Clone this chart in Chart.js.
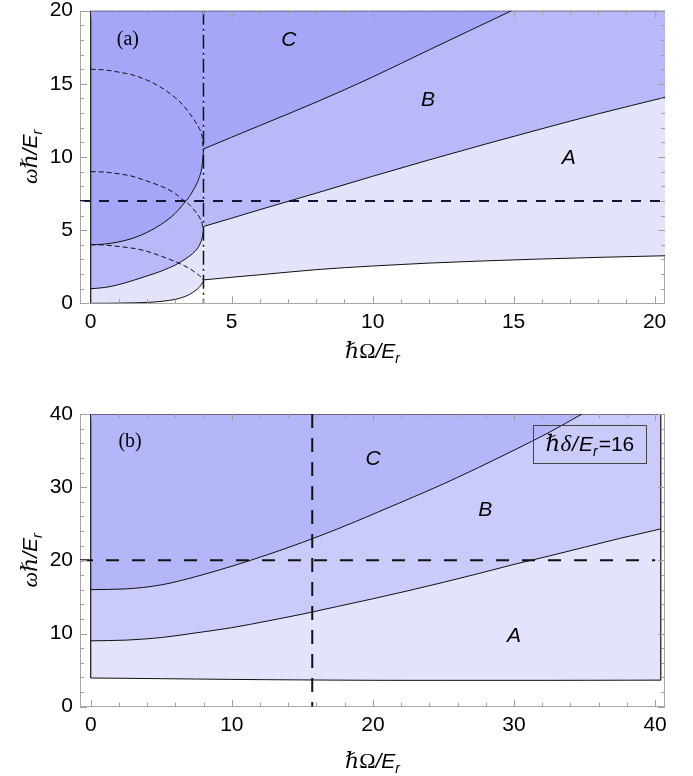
<!DOCTYPE html>
<html><head><meta charset="utf-8">
<script src="https://cdn.jsdelivr.net/npm/chart.js@4.4.0/dist/chart.umd.min.js"></script>
<style>
html,body{margin:0;padding:0;background:#fff;}
#wrap{position:relative;width:693px;height:776px;overflow:hidden;background:#fff;}
canvas{position:absolute;left:0;}
#c1{top:-20px;} #c2{top:390px;}
</style></head><body>
<div id="wrap"><canvas id="c1" width="693" height="400"></canvas><canvas id="c2" width="693" height="386"></canvas></div>
<script>
// ---------------- Panel (a) data ----------------
const aLeftX  = [0, 0.5, 1, 1.5, 2, 2.5, 3, 3.25, 3.5, 3.7, 3.85, 3.95, 4];
const aLowL   = [0, 0, 0.01, 0.03, 0.06, 0.13, 0.27, 0.4, 0.6, 0.85, 1.1, 1.35, 1.5];
const aMidL   = [1.0, 1.08, 1.28, 1.56, 1.87, 2.2, 2.62, 2.9, 3.22, 3.55, 3.95, 4.45, 4.95];
const aUpL    = [4.0, 4.05, 4.2, 4.45, 4.85, 5.4, 6.15, 6.7, 7.3, 7.95, 8.6, 9.4, 10.45];
const aDash16 = [16.0, 15.95, 15.8, 15.6, 15.25, 14.75, 14.05, 13.6, 13.0, 12.45, 11.95, 11.4, 10.5];
const aDash9  = [9.0, 8.97, 8.85, 8.67, 8.35, 8.0, 7.5, 7.1, 6.75, 6.3, 5.9, 5.45, 4.95];
const aDash4  = [4.0, 3.98, 3.88, 3.76, 3.55, 3.22, 2.85, 2.63, 2.38, 2.12, 1.9, 1.72, 1.55];
const aRightX = [4, 5, 6, 8, 10, 12, 14, 16, 18, 20.37];
const aLowR   = [1.6, 1.78, 1.95, 2.3, 2.55, 2.75, 2.9, 3.03, 3.14, 3.25];
const aMidR   = [5.25, 5.82, 6.4, 7.53, 8.68, 9.8, 10.88, 11.93, 12.95, 14.08];
const aUpRX   = [4, 5, 6, 8, 10, 12, 14, 14.93];
const aUpR    = [10.55, 11.35, 12.15, 13.75, 15.47, 17.32, 19.15, 20];
const aOmegaV = 4;      // vertical dash-dot line
const aOmegaH = 7;      // horizontal dashed line
const aXRange = [-0.38, 20.37];
const aYRange = [0, 20];
const aXTickStep = 1, aXMajor = 5, aYTickStep = 1, aYMajor = 5;

// ---------------- Panel (b) data ----------------
const bX     = [0, 2.5, 5, 7.5, 10, 12.5, 15, 17.5, 20, 22.5, 25, 27.5, 30, 32.5, 35, 37.5, 40.4];
const bLow   = [3.92, 3.88, 3.83, 3.78, 3.73, 3.69, 3.66, 3.63, 3.61, 3.6, 3.6, 3.6, 3.6, 3.6, 3.61, 3.62, 3.63];
const bMid   = [9.0, 9.1, 9.45, 10.1, 10.8, 11.7, 12.65, 13.7, 14.75, 15.85, 17.0, 18.2, 19.45, 20.6, 21.8, 23.0, 24.3];
const bUpX   = [0, 2.5, 5, 7.5, 10, 12.5, 15, 17.5, 20, 22.5, 25, 27.5, 30, 32.5, 34.82];
const bUp    = [16.0, 16.1, 16.65, 17.8, 19.2, 20.75, 22.45, 24.3, 26.3, 28.35, 30.45, 32.7, 35.05, 37.5, 40];
const bOmegaV = 15.7;
const bOmegaH = 20;
const bDelta  = 16;
const bXRange = [-0.76, 40.7];
const bYRange = [0, 40];
const bXTickStep = 2, bXMajor = 10, bYTickStep = 2, bYMajor = 10;

// ---------------- helpers ----------------
const SANS = '"Liberation Sans", Arial, sans-serif';
const SERIF = '"Liberation Serif", "DejaVu Serif", serif';
const pts = (xs, ys) => xs.map((x, i) => ({x: x, y: ys[i]}));
const last = a => a[a.length - 1];

function richWidth(ctx, parts) {
  let w = 0;
  parts.forEach(p => { ctx.font = p.f; w += ctx.measureText(p.t).width + (p.sp || 0); });
  return w;
}
function drawRich(ctx, parts, cx, cy, rot) {
  ctx.save();
  ctx.translate(cx, cy);
  if (rot) ctx.rotate(rot);
  ctx.textBaseline = 'alphabetic';
  ctx.textAlign = 'left';
  ctx.fillStyle = '#000';
  const w = richWidth(ctx, parts);
  let x = -w / 2;
  parts.forEach(p => {
    ctx.font = p.f;
    ctx.fillText(p.t, x, 7 + (p.dy || 0));
    x += ctx.measureText(p.t).width + (p.sp || 0);
  });
  ctx.restore();
  return w;
}
const titleY = [
  {t: 'ωℏ', f: 'italic 22px ' + SERIF},
  {t: '/', f: 'italic 21px ' + SANS},
  {t: 'E', f: 'italic 21px ' + SANS},
  {t: 'r', f: 'italic 14px ' + SANS, dy: 5}
];
const titleX = [
  {t: 'ℏ', f: 'italic 22px ' + SERIF},
  {t: 'Ω', f: '22px ' + SERIF},
  {t: '/', f: 'italic 21px ' + SANS},
  {t: 'E', f: 'italic 21px ' + SANS},
  {t: 'r', f: 'italic 14px ' + SANS, dy: 5}
];

const isMajor = (v, m) => Math.abs(v / m - Math.round(v / m)) < 1e-6;

const decor = {
  id: 'decor',
  beforeDatasetsDraw(chart, args, o) {
    const {ctx, chartArea: ca} = chart;
    ctx.save();
    ctx.strokeStyle = '#a8a8a8';
    ctx.lineWidth = 1;
    ctx.strokeRect(Math.round(ca.left) + 0.5, Math.round(ca.top) + 0.5,
                   Math.round(ca.right - ca.left) - 1, Math.round(ca.bottom - ca.top) - 1);
    ctx.restore();
  },
  afterDatasetsDraw(chart, args, o) {
    const {ctx, chartArea: ca} = chart;
    const xs = chart.scales.x, ys = chart.scales.y;
    ctx.save();
    ctx.strokeStyle = '#a0a0a0';
    ctx.lineWidth = 1;
    ctx.beginPath();
    xs.ticks.forEach(t => {
      const p = Math.round(xs.getPixelForValue(t.value)) + 0.5;
      const L = isMajor(t.value, o.xMajor) ? 7 : 4;
      ctx.moveTo(p, ca.bottom); ctx.lineTo(p, ca.bottom - L);
      ctx.moveTo(p, ca.top); ctx.lineTo(p, ca.top + L);
    });
    ys.ticks.forEach(t => {
      const p = Math.round(ys.getPixelForValue(t.value)) + 0.5;
      const L = isMajor(t.value, o.yMajor) ? 7 : 4;
      ctx.moveTo(ca.left, p); ctx.lineTo(ca.left + L, p);
      ctx.moveTo(ca.right, p); ctx.lineTo(ca.right - L, p);
    });
    ctx.stroke();
    ctx.restore();
  },
  afterDraw(chart, args, o) {
    const {ctx, chartArea: ca} = chart;
    const xs = chart.scales.x, ys = chart.scales.y;
    drawRich(ctx, titleX, (ca.left + ca.right) / 2, ca.bottom + o.xTitleOffset, 0);
    drawRich(ctx, titleY, o.yTitleX, (ca.top + ca.bottom) / 2, -Math.PI / 2);
    ctx.save();
    ctx.textAlign = 'center';
    ctx.textBaseline = 'middle';
    ctx.fillStyle = '#000';
    o.labels.forEach(l => {
      ctx.font = l.f;
      ctx.fillText(l.t, xs.getPixelForValue(l.x), ys.getPixelForValue(l.y));
    });
    ctx.restore();
    if (o.box) {
      const cx = xs.getPixelForValue(o.box.x), cy = ys.getPixelForValue(o.box.y);
      drawRich(ctx, o.box.parts, cx, cy, 0);
      ctx.save();
      ctx.strokeStyle = '#444';
      ctx.lineWidth = 1;
      ctx.strokeRect(Math.round(cx - o.box.w / 2) + 0.5, Math.round(cy - o.box.h / 2) + 0.5, o.box.w, o.box.h);
      ctx.restore();
    }
  }
};

function baseOptions(xr, yr, xStep, xMaj, yStep, yMaj, padTop, xAxisH, decorOpts) {
  const tickFont = {family: SANS, size: 21};
  return {
    responsive: false,
    animation: false,
    events: [],
    layout: {autoPadding: false, padding: {left: 0, right: 28, top: padTop, bottom: 0}},
    plugins: {legend: {display: false}, tooltip: {enabled: false}, decor: decorOpts},
    elements: {point: {radius: 0}, line: {borderWidth: 1, borderColor: '#111', cubicInterpolationMode: 'monotone'}},
    scales: {
      x: {
        type: 'linear', min: xr[0], max: xr[1],
        grid: {display: false, drawTicks: false}, border: {display: false},
        ticks: {stepSize: xStep, autoSkip: false, maxRotation: 0, minRotation: 0, includeBounds: false,
                padding: 6, color: '#000', font: tickFont,
                callback: v => isMajor(v, xMaj) ? String(Math.round(v)) : ''},
        afterFit: s => { s.height = xAxisH; }
      },
      y: {
        type: 'linear', min: yr[0], max: yr[1],
        grid: {display: false, drawTicks: false}, border: {display: false},
        ticks: {stepSize: yStep, autoSkip: false, includeBounds: false,
                padding: 7, color: '#000', font: tickFont,
                callback: v => isMajor(v, yMaj) ? String(Math.round(v)) : ''},
        afterFit: s => { s.width = 80; }
      }
    }
  };
}

const fillDs = (data, color, order) => ({data: data, fill: 'end', backgroundColor: color, borderColor: '#111', borderWidth: 1, order: order});
const lineDs = (data, dash, width, order, color, mode) => ({data: data, fill: false, borderColor: color || '#111', borderWidth: width, borderDash: dash, order: order, cubicInterpolationMode: mode || 'monotone'});

// ---------------- Chart (a) ----------------
const aCol = {A: '#e3e3fa', B: '#b9b9fa', C: '#a6a6f8'};
new Chart(document.getElementById('c1'), {
  type: 'line',
  data: {
    datasets: [
      fillDs(pts(aLeftX, aLowL), aCol.A, 10),
      fillDs(pts(aRightX, aLowR), aCol.A, 10),
      fillDs(pts(aLeftX, aMidL), aCol.B, 9),
      fillDs(pts(aRightX, aMidR), aCol.B, 9),
      fillDs(pts(aLeftX, aUpL), aCol.C, 8),
      fillDs(pts(aUpRX, aUpR), aCol.C, 8),
      lineDs(pts(aLeftX, aDash16), [5, 3], 1, 5),
      lineDs(pts(aLeftX, aDash9), [5, 3], 1, 5),
      lineDs(pts(aLeftX, aDash4), [5, 3], 1, 5),
      lineDs([{x: aLeftX[0], y: aLowL[0]}, {x: aLeftX[0], y: aYRange[1]}, {x: last(aRightX), y: aYRange[1]}], [], 1.2, 4, '#111', 'default'),
      lineDs([{x: aXRange[0], y: aOmegaH}, {x: aXRange[1], y: aOmegaH}], [10, 9], 2, 2, '#141438', 'default'),
      lineDs([{x: aOmegaV, y: aYRange[1]}, {x: aOmegaV, y: aYRange[0]}], [14, 4, 2, 4], 1.5, 1, '#111', 'default')
    ]
  },
  options: baseOptions(aXRange, aYRange, aXTickStep, aXMajor, aYTickStep, aYMajor, 30.7, 76.7, {
    xMajor: aXMajor, yMajor: aYMajor, xTitleOffset: 48, yTitleX: 30,
    labels: [
      {t: '(a)', x: 1.32, y: 18.0, f: '20px ' + SERIF},
      {t: 'C', x: 7.03, y: 18.0, f: 'italic 21px ' + SANS},
      {t: 'B', x: 11.96, y: 13.9, f: 'italic 21px ' + SANS},
      {t: 'A', x: 16.96, y: 9.93, f: 'italic 21px ' + SANS}
    ]
  }),
  plugins: [decor]
});

// ---------------- Chart (b) ----------------
const bCol = {A: '#e3e3fb', B: '#cbcbfb', C: '#b5b5fa'};
new Chart(document.getElementById('c2'), {
  type: 'line',
  data: {
    datasets: [
      fillDs(pts(bX, bLow), bCol.A, 10),
      fillDs(pts(bX, bMid), bCol.B, 9),
      fillDs(pts(bUpX, bUp), bCol.C, 8),
      lineDs([{x: bX[0], y: bLow[0]}, {x: bX[0], y: bYRange[1]}, {x: last(bX), y: bYRange[1]}, {x: last(bX), y: last(bLow)}], [], 1.2, 4, '#111', 'default'),
      lineDs([{x: bXRange[0], y: bOmegaH}, {x: 40, y: bOmegaH}], [13, 13], 2, 2, '#111', 'default'),
      lineDs([{x: bOmegaV, y: bYRange[1]}, {x: bOmegaV, y: bYRange[0]}], [14, 10], 2, 1, '#111', 'default')
    ]
  },
  options: baseOptions(bXRange, bYRange, bXTickStep, bXMajor, bYTickStep, bYMajor, 24, 69.3, {
    xMajor: bXMajor, yMajor: bYMajor, xTitleOffset: 54.5, yTitleX: 30,
    labels: [
      {t: '(b)', x: 2.79, y: 36.16, f: '20px ' + SERIF},
      {t: 'C', x: 20.02, y: 33.84, f: 'italic 21px ' + SANS},
      {t: 'B', x: 27.96, y: 26.87, f: 'italic 21px ' + SANS},
      {t: 'A', x: 30.0, y: 9.66, f: 'italic 21px ' + SANS}
    ],
    box: {x: 35.38, y: 35.96, w: 113, h: 38, parts: [
      {t: 'ℏδ', f: 'italic 23px ' + SERIF, sp: 1},
      {t: '/', f: 'italic 21px ' + SANS, sp: 1},
      {t: 'E', f: 'italic 21px ' + SANS},
      {t: 'r', f: 'italic 14px ' + SANS, dy: 5, sp: 1},
      {t: '=' + bDelta, f: '21px ' + SANS}
    ]}
  }),
  plugins: [decor]
});
</script>
</body></html>
